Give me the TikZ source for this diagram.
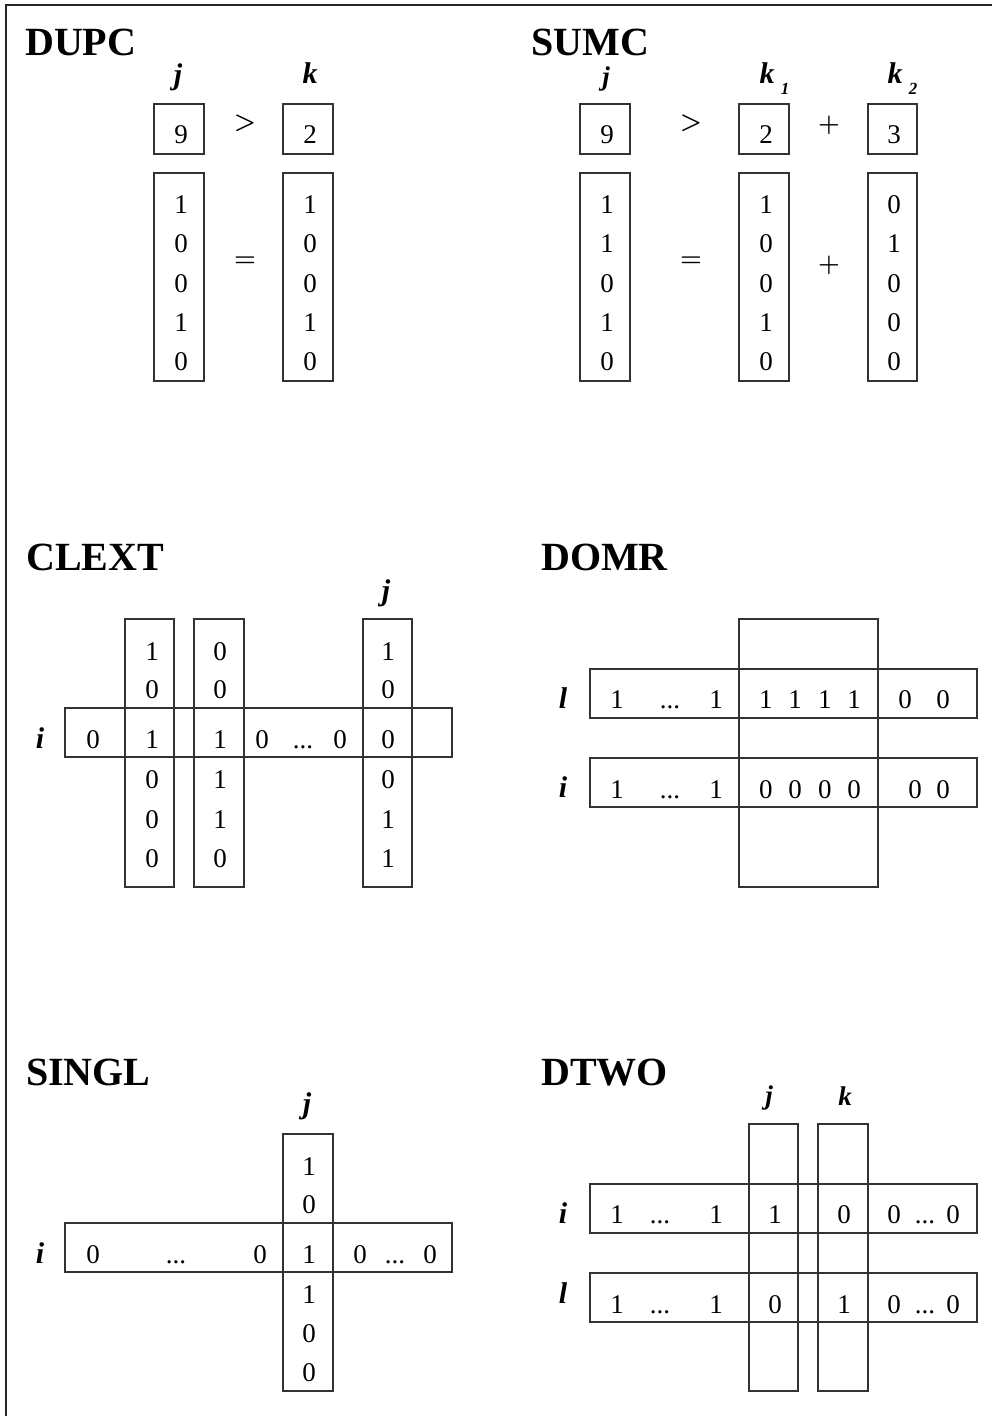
\documentclass[tikz,border=0pt]{standalone}
\usepackage[no-math]{fontspec}
\setmainfont{Liberation Serif}
\tikzset{
  frameline/.style={line width=1.5pt, draw=black!85},
  cellbox/.style={draw=black!80, line width=1.1pt},
  dig/.style={anchor=base, inner sep=0pt, font=\fontsize{27}{32}\selectfont},
  ttl/.style={anchor=base west, inner sep=0pt, font=\fontsize{40}{48}\selectfont\bfseries},
  lbl/.style={anchor=base, inner sep=0pt, font=\fontsize{30}{36}\selectfont\bfseries\itshape},
  smlbl/.style={anchor=base, inner sep=0pt, font=\fontsize{27}{32}\selectfont\bfseries\itshape},
  sublbl/.style={anchor=base, inner sep=0pt, font=\fontsize{17}{20}\selectfont\bfseries\itshape},
  sym/.style={inner sep=0pt, font=\fontsize{30}{36}\selectfont\boldmath}
}
\newcommand\gapA{\hspace{16pt}}
\newcommand\ddd{...}
\begin{document}
\begin{tikzpicture}[x=1pt,y=-1pt]
\useasboundingbox (0,0) rectangle (992,1416);
\draw[frameline] (992,5) -- (6,5) -- (6,1416);

% ---------------- DUPC
\node[ttl] (tdupc) at (25,55) {DUPC};
\node[lbl] (dupcj) at (178,84) {j};
\node[lbl] (dupck) at (310,83) {k};
\draw[cellbox] (154,104) rectangle (204,154);
\draw[cellbox] (283,104) rectangle (333,154);
\node[dig] (dupcnine) at (181,143) {9};
\node[dig] (dupctwo) at (310,143) {2};
\node[sym] (dupcgt) at (245,123) {$>$};
\draw[cellbox] (154,173) rectangle (204,381);
\draw[cellbox] (283,173) rectangle (333,381);
\node[sym] (dupceq) at (245,262) {$=$};
\foreach \y/\a/\b [count=\n] in {213/1/1, 252.5/0/0, 292/0/0, 331/1/1, 370/0/0}{
  \node[dig] (dupcja\n) at (181,\y) {\a};
  \node[dig] (dupcka\n) at (310,\y) {\b};
}

% ---------------- SUMC
\node[ttl] (tsumc) at (531,55) {SUMC};
\node[smlbl] (sumcj) at (606,85) {j};
\node[lbl] (sumck1) at (767,83) {k};
\node[sublbl] (sumcs1) at (785,94) {1};
\node[lbl] (sumck2) at (895,83) {k};
\node[sublbl] (sumcs2) at (913,94) {2};
\draw[cellbox] (580,104) rectangle (630,154);
\draw[cellbox] (739,104) rectangle (789,154);
\draw[cellbox] (868,104) rectangle (917,154);
\node[dig] (sumcnine) at (607,143) {9};
\node[dig] (sumctwo) at (766,143) {2};
\node[dig] (sumcthree) at (894,143) {3};
\node[sym] (sumcgt) at (691,123) {$>$};
\node[sym] (sumcplA) at (829,125) {$+$};
\draw[cellbox] (580,173) rectangle (630,381);
\draw[cellbox] (739,173) rectangle (789,381);
\draw[cellbox] (868,173) rectangle (917,381);
\node[sym] (sumceq) at (691,262) {$=$};
\node[sym] (sumcplB) at (829,265) {$+$};
\foreach \y/\a/\b/\c [count=\n] in {213/1/1/0, 252.5/1/0/1, 292/0/0/0, 331/1/1/0, 370/0/0/0}{
  \node[dig] (sumcja\n) at (607,\y) {\a};
  \node[dig] (sumcka\n) at (766,\y) {\b};
  \node[dig] (sumckb\n) at (894,\y) {\c};
}

% ---------------- CLEXT
\node[ttl] (tclext) at (26,570) {CLEXT};
\node[lbl] (clextj) at (386,600) {j};
\node[lbl] (clexti) at (40,748) {i};
\draw[cellbox] (65,708) rectangle (452,757);
\draw[cellbox] (125,619) rectangle (174,887);
\draw[cellbox] (194,619) rectangle (244,887);
\draw[cellbox] (363,619) rectangle (412,887);
\foreach \y/\a/\b/\c [count=\n] in {660/1/0/1, 698/0/0/0, 748/1/1/0, 788/0/1/0, 828/0/1/1, 867/0/0/1}{
  \node[dig] (clexta\n) at (152,\y) {\a};
  \node[dig] (clextb\n) at (220,\y) {\b};
  \node[dig] (clextc\n) at (388,\y) {\c};
}
\foreach \x/\t [count=\n] in {93/0, 262/0, 303/\ddd, 340/0}{
  \node[dig] (clextr\n) at (\x,748) {\t};
}

% ---------------- DOMR
\node[ttl] (tdomr) at (541,570) {DOMR};
\node[lbl] (domrl) at (563,708) {l};
\node[lbl] (domri) at (563,797) {i};
\draw[cellbox] (590,669) rectangle (977,718);
\draw[cellbox] (590,758) rectangle (977,807);
\draw[cellbox] (739,619) rectangle (878,887);
\foreach \x/\t [count=\n] in {617/1, 670/\ddd, 716/1, 810/{1\gapA 1\gapA 1\gapA 1}, 905/0, 943/0}{
  \node[dig] (domrla\n) at (\x,708) {\t};
}
\foreach \x/\t [count=\n] in {617/1, 670/\ddd, 716/1, 810/{0\gapA 0\gapA 0\gapA 0}, 915/0, 943/0}{
  \node[dig] (domria\n) at (\x,798) {\t};
}

% ---------------- SINGL
\node[ttl] (tsingl) at (26,1085) {SINGL};
\node[lbl] (singlj) at (307,1113) {j};
\node[lbl] (singli) at (40,1263) {i};
\draw[cellbox] (65,1223) rectangle (452,1272);
\draw[cellbox] (283,1134) rectangle (333,1391);
\foreach \y/\t [count=\n] in {1175/1, 1213/0, 1263/1, 1303/1, 1342/0, 1381/0}{
  \node[dig] (singlc\n) at (309,\y) {\t};
}
\foreach \x/\t [count=\n] in {93/0, 176/\ddd, 260/0, 360/0, 395/\ddd, 430/0}{
  \node[dig] (singlr\n) at (\x,1263) {\t};
}

% ---------------- DTWO
\node[ttl] (tdtwo) at (541,1085) {DTWO};
\node[smlbl] (dtwoj) at (769,1104) {j};
\node[smlbl] (dtwok) at (845,1105) {k};
\node[lbl] (dtwoi) at (563,1223) {i};
\node[lbl] (dtwol) at (563,1303) {l};
\draw[cellbox] (590,1184) rectangle (977,1233);
\draw[cellbox] (590,1273) rectangle (977,1322);
\draw[cellbox] (749,1124) rectangle (798,1391);
\draw[cellbox] (818,1124) rectangle (868,1391);
\foreach \x/\a/\b [count=\n] in {617/1/1, 660/\ddd/\ddd, 716/1/1, 775/1/0, 844/0/1, 894/0/0, 925/\ddd/\ddd, 953/0/0}{
  \node[dig] (dtwoi\n) at (\x,1223) {\a};
  \node[dig] (dtwol\n) at (\x,1313) {\b};
}
\end{tikzpicture}
\end{document}
